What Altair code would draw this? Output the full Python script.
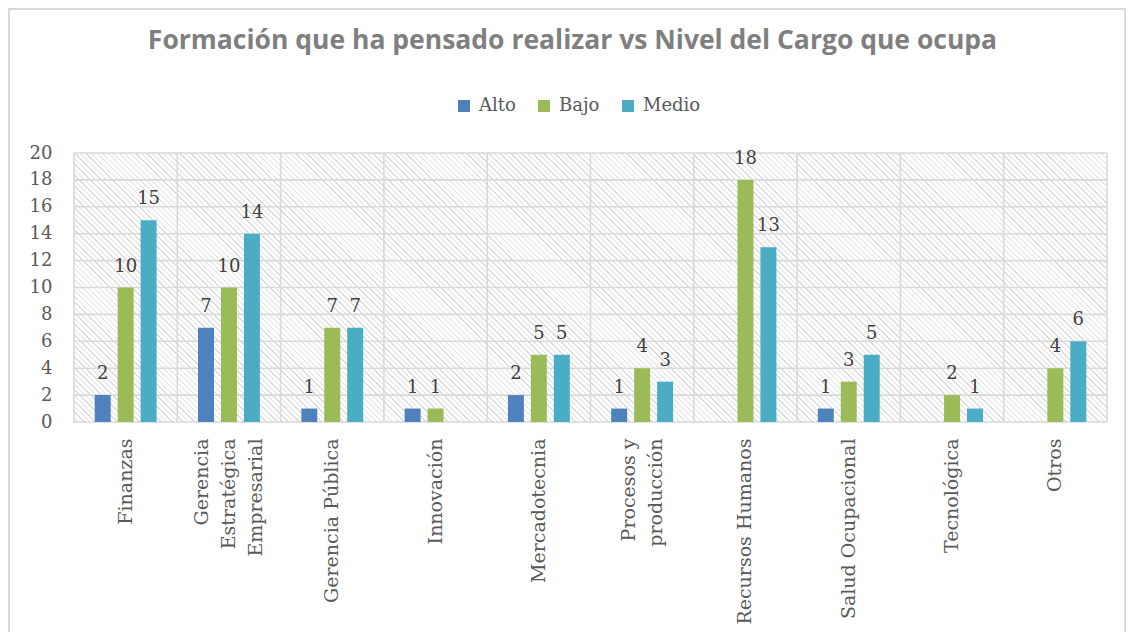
import altair as alt
import pandas as pd

categorias = ["Finanzas", "Gerencia|Estratégica|Empresarial", "Gerencia Pública",
              "Innovación", "Mercadotecnia", "Procesos y|producción",
              "Recursos Humanos", "Salud Ocupacional", "Tecnológica", "Otros"]
series = ["Alto", "Bajo", "Medio"]
alto = [2, 7, 1, 1, 2, 1, None, 1, None, None]
bajo = [10, 10, 7, 1, 5, 4, 18, 3, 2, 4]
medio = [15, 14, 7, None, 5, 3, 13, 5, 1, 6]
y_ticks = [0, 2, 4, 6, 8, 10, 12, 14, 16, 18, 20]
colores = ["#4f81bd", "#9bbb59", "#4bacc6"]

rows = []
for s, vals in zip(series, [alto, bajo, medio]):
    for c, v in zip(categorias, vals):
        if v is not None:
            rows.append({"cat": c, "serie": s, "valor": v})
df = pd.DataFrame(rows)

W, H = 1033, 269
SERIF = "DejaVu Serif"
GRID = "#d9d9d9"

# diagonal hatch background as a striped linear gradient
r = H / W
s_len = (1 + r) / (1 + r * r)
n_stripes = 236
line_frac = 0.25
stops = []
for k in range(n_stripes):
    a = k / n_stripes
    b = (k + 1 - line_frac) / n_stripes
    c = (k + 1) / n_stripes
    stops += [{"offset": a, "color": "#ffffff"}, {"offset": b, "color": "#ffffff"},
              {"offset": b, "color": "#dcdcdc"}, {"offset": c, "color": "#dcdcdc"}]
hatch = {"gradient": "linear", "x1": 0, "y1": 1, "x2": s_len, "y2": 1 - s_len * r,
         "stops": stops}

label_shift = {
    "condition": [
        {"test": "indexof(datum.value, 'Empresarial') >= 0", "value": -27},
        {"test": "indexof(datum.value, 'producción') >= 0", "value": -13.5},
    ],
    "value": 0,
}

xscale = alt.Scale(domain=categorias, paddingInner=0, paddingOuter=0)
yscale = alt.Scale(domain=[0, 20], nice=False)
xaxis = alt.Axis(title=None, labelAngle=-90, labelAlign="right", labelBaseline="middle",
                 labelExpr="split(datum.label, '|')", labelLineHeight=27,
                 labelFont=SERIF, labelFontSize=19, labelColor="#595959",
                 labelPadding=16, labelOffset=label_shift,
                 ticks=False, domain=False, grid=False, labelLimit=400)
yaxis = alt.Axis(title=None, values=y_ticks, labelFont=SERIF, labelFontSize=18,
                 labelColor="#595959", labelPadding=22, ticks=False, domain=False,
                 grid=False)

bg = alt.Chart(alt.Data(values=[{"a": 1}])).mark_rect(fill=hatch).encode(
    x=alt.value(0), x2=alt.value("width"), y=alt.value(0), y2=alt.value("height"))

frame = alt.Chart(alt.Data(values=[{"a": 1}])).mark_rect(
    fill=None, stroke=GRID, strokeWidth=2, clip=False).encode(
    x=alt.value(-65), x2=alt.value(1051), y=alt.value(-144), y2=alt.value(520))

hgrid = alt.Chart(pd.DataFrame({"v": y_ticks})).mark_rule(
    color=GRID, strokeWidth=1.6).encode(
    y=alt.Y("v:Q", scale=yscale, axis=yaxis), x=alt.value(0), x2=alt.value("width"))

vgrid = alt.Chart(pd.DataFrame({"cat": categorias})).mark_rule(
    color=GRID, strokeWidth=1.6).encode(
    x=alt.X("cat:N", scale=xscale, axis=xaxis, sort=categorias, bandPosition=0),
    y=alt.value(0), y2=alt.value("height"))

vright = alt.Chart(alt.Data(values=[{"a": 1}])).mark_rule(
    color=GRID, strokeWidth=1.6).encode(
    x=alt.value("width"), y=alt.value(0), y2=alt.value("height"))

offset = alt.XOffset("serie:N", scale=alt.Scale(domain=series, paddingInner=0.304,
                                                  paddingOuter=0.902))

bars = alt.Chart(df).mark_bar().encode(
    x=alt.X("cat:N", scale=xscale, axis=xaxis, sort=categorias),
    xOffset=offset,
    y=alt.Y("valor:Q", scale=yscale, axis=yaxis),
    color=alt.Color("serie:N", scale=alt.Scale(domain=series, range=colores),
                    legend=alt.Legend(title=None, orient="none", legendX=381,
                                      legendY=-56, direction="horizontal",
                                      symbolType="square", symbolSize=144,
                                      symbolStrokeWidth=0, labelFont=SERIF,
                                      labelFontSize=18, labelColor="#595959",
                                      columnPadding=19, labelOffset=6)))

labels = alt.Chart(df).mark_text(font=SERIF, fontSize=18, color="#404040",
                                  baseline="alphabetic", dy=-16).encode(
    x=alt.X("cat:N", scale=xscale, axis=xaxis, sort=categorias),
    xOffset=offset,
    y=alt.Y("valor:Q", scale=yscale, axis=yaxis),
    text=alt.Text("valor:Q"))

chart = alt.layer(bg, frame, hgrid, vgrid, vright, bars, labels).properties(
    width=W, height=H,
    autosize=alt.AutoSizeParams(type="none"),
    padding={"left": 66, "top": 145, "right": 20, "bottom": 210},
    title=alt.TitleParams("Formación que ha pensado realizar vs Nivel del Cargo que ocupa",
                          font="Open Sans", fontSize=26.5, fontWeight="bold",
                          color="#7f7f7f", anchor="middle", frame="group", dx=-18,
                          offset=0, dy=67, baseline="alphabetic"),
).configure_view(stroke=None).configure_legend(labelFont=SERIF, labelFontSize=18)

chart.save("out.html", embed_options={"renderer": "svg", "actions": False})
